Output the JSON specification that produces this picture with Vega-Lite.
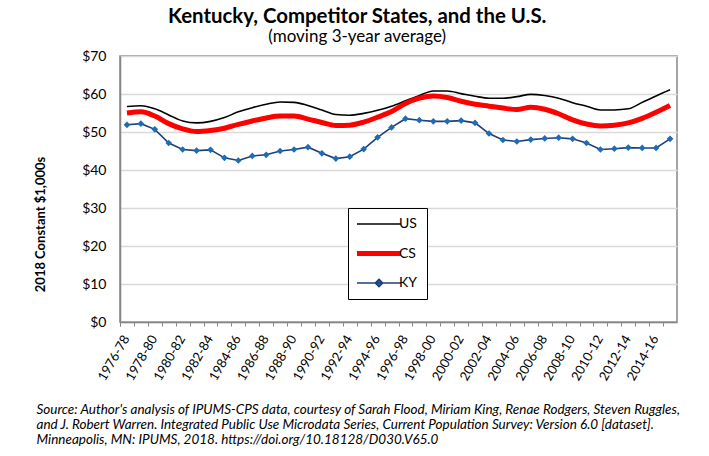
{
  "$schema": "https://vega.github.io/schema/vega-lite/v6.json",
  "width": 557,
  "height": 266,
  "padding": {"left": 34, "top": 6, "right": 5, "bottom": 5},
  "background": "white",
  "config": {"font": "Lato", "view": {"stroke": "#868686", "strokeWidth": 1.5}},
  "title": {
    "text": "Kentucky, Competitor States, and the U.S.",
    "subtitle": "(moving 3-year average)",
    "fontSize": 20.4,
    "fontWeight": "bold",
    "color": "black",
    "subtitleFontSize": 17,
    "subtitleColor": "black",
    "anchor": "middle",
    "frame": "bounds",
    "offset": 4,
    "subtitlePadding": 2
  },
  "data": {"values": [
    {"p": "1976-78", "US": 56.7, "CS": 55.0, "KY": 51.9},
    {"p": "1977-79", "US": 56.9, "CS": 55.3, "KY": 52.2},
    {"p": "1978-80", "US": 56.1, "CS": 54.2, "KY": 50.7},
    {"p": "1979-81", "US": 54.5, "CS": 52.2, "KY": 47.1},
    {"p": "1980-82", "US": 52.9, "CS": 50.8, "KY": 45.4},
    {"p": "1981-83", "US": 52.4, "CS": 50.1, "KY": 45.1},
    {"p": "1982-84", "US": 52.8, "CS": 50.4, "KY": 45.3},
    {"p": "1983-85", "US": 53.8, "CS": 51.0, "KY": 43.2},
    {"p": "1984-86", "US": 55.3, "CS": 52.0, "KY": 42.5},
    {"p": "1985-87", "US": 56.4, "CS": 52.9, "KY": 43.7},
    {"p": "1986-88", "US": 57.3, "CS": 53.7, "KY": 44.0},
    {"p": "1987-89", "US": 57.9, "CS": 54.2, "KY": 45.0},
    {"p": "1988-90", "US": 57.8, "CS": 54.2, "KY": 45.4},
    {"p": "1989-91", "US": 57.0, "CS": 53.4, "KY": 46.0},
    {"p": "1990-92", "US": 55.8, "CS": 52.5, "KY": 44.4},
    {"p": "1991-93", "US": 54.6, "CS": 51.7, "KY": 43.0},
    {"p": "1992-94", "US": 54.4, "CS": 51.8, "KY": 43.5},
    {"p": "1993-95", "US": 54.9, "CS": 52.6, "KY": 45.5},
    {"p": "1994-96", "US": 55.7, "CS": 53.9, "KY": 48.6},
    {"p": "1995-97", "US": 56.8, "CS": 55.4, "KY": 51.2},
    {"p": "1996-98", "US": 58.2, "CS": 57.5, "KY": 53.5},
    {"p": "1997-99", "US": 59.6, "CS": 58.9, "KY": 53.1},
    {"p": "1998-00", "US": 60.8, "CS": 59.5, "KY": 52.8},
    {"p": "1999-01", "US": 60.8, "CS": 59.1, "KY": 52.8},
    {"p": "2000-02", "US": 60.1, "CS": 58.1, "KY": 53.0},
    {"p": "2001-03", "US": 59.4, "CS": 57.3, "KY": 52.4},
    {"p": "2002-04", "US": 58.9, "CS": 56.8, "KY": 49.6},
    {"p": "2003-05", "US": 58.9, "CS": 56.3, "KY": 47.9},
    {"p": "2004-06", "US": 59.3, "CS": 55.9, "KY": 47.5},
    {"p": "2005-07", "US": 59.9, "CS": 56.5, "KY": 48.0},
    {"p": "2006-08", "US": 59.6, "CS": 56.0, "KY": 48.3},
    {"p": "2007-09", "US": 58.9, "CS": 54.8, "KY": 48.5},
    {"p": "2008-10", "US": 57.7, "CS": 53.2, "KY": 48.2},
    {"p": "2009-11", "US": 56.8, "CS": 52.1, "KY": 47.1},
    {"p": "2010-12", "US": 55.8, "CS": 51.6, "KY": 45.4},
    {"p": "2011-13", "US": 55.8, "CS": 51.8, "KY": 45.6},
    {"p": "2012-14", "US": 56.1, "CS": 52.4, "KY": 45.9},
    {"p": "2013-15", "US": 57.8, "CS": 53.6, "KY": 45.8},
    {"p": "2014-16", "US": 59.5, "CS": 55.2, "KY": 45.8},
    {"p": "2015-17", "US": 61.1, "CS": 57.0, "KY": 48.2}
  ]},
  "transform": [{"fold": ["US", "CS", "KY"], "as": ["series", "value"]}],
  "encoding": {
    "x": {
      "field": "p",
      "type": "ordinal",
      "sort": null,
      "scale": {"type": "point", "padding": 0.5},
      "axis": {
        "title": [
          "Source: Author's analysis of IPUMS-CPS data, courtesy of Sarah Flood, Miriam King, Renae Rodgers, Steven Ruggles,",
          "and J. Robert Warren. Integrated Public Use Microdata Series, Current Population Survey: Version 6.0 [dataset].",
          "Minneapolis, MN: IPUMS, 2018. https://doi.org/10.18128/D030.V65.0"
        ],
        "titleFont": "Lato",
        "titleFontStyle": "italic",
        "titleFontWeight": "normal",
        "titleFontSize": 13.5,
        "titleColor": "black",
        "titleAnchor": "start",
        "titleAlign": "left",
        "titleX": -84,
        "titleY": 80,
        "titleBaseline": "top",
        "titleLineHeight": 15,
        "labelAngle": -60,
        "labelExpr": "indexof(['1976-78','1978-80','1980-82','1982-84','1984-86','1986-88','1988-90','1990-92','1992-94','1994-96','1996-98','1998-00','2000-02','2002-04','2004-06','2006-08','2008-10','2010-12','2012-14','2014-16'], datum.value) >= 0 ? datum.value : ''",
        "labelFontSize": 13,
        "labelColor": "black",
        "labelPadding": 10,
        "labelOffset": 6,
        "labelOverlap": false,
        "tickOffset": -6.96,
        "tickExtra": true,
        "tickSize": 4,
        "tickColor": "#868686",
        "domainColor": "#868686",
        "domainWidth": 1.5,
        "grid": false
      }
    },
    "y": {
      "field": "value",
      "type": "quantitative",
      "scale": {"domain": [0, 70]},
      "axis": {
        "title": "2018 Constant $1,000s",
        "titleFontSize": 13,
        "titleFontWeight": "bold",
        "titleColor": "black",
        "titleX": -80,
        "titleY": 168,
        "titleAlign": "center",
        "titleBaseline": "middle",
        "titleAngle": -90,
        "values": [0, 10, 20, 30, 40, 50, 60, 70],
        "labelExpr": "'$' + datum.value",
        "labelFontSize": 14,
        "labelColor": "black",
        "labelPadding": 14,
        "tickSize": 0,
        "domainColor": "#868686",
        "domainWidth": 1.5,
        "gridColor": "#d9d9d9",
        "gridWidth": 1.3
      }
    }
  },
  "layer": [
    {
      "transform": [{"filter": "datum.series === 'US'"}],
      "mark": {"type": "line", "interpolate": "monotone", "strokeWidth": 1.6},
      "encoding": {
        "color": {
          "field": "series",
          "type": "nominal",
          "scale": {"domain": ["US", "CS", "KY"], "range": ["black", "#ff0000", "#1f3f7a"]},
          "legend": {
            "title": null,
            "orient": "none",
            "legendX": 228,
            "legendY": 152,
            "direction": "vertical",
            "strokeColor": "black",
            "fillColor": "white",
            "padding": 9,
            "rowPadding": 12.5,
            "symbolType": "M-0.67,0H3.53",
            "symbolSize": 441,
            "symbolStrokeWidth": 1.6,
            "labelFontSize": 14,
            "labelColor": "black",
            "labelOffset": 28,
            "encode": {
              "symbols": {
                "update": {
                  "strokeWidth": {"signal": "datum.value === 'CS' ? 5 : 1.6"},
                  "shape": {"signal": "datum.value === 'KY' ? 'M-0.67,0H3.53M1.43,-0.35L1.78,0L1.43,0.35L1.08,0Z' : 'M-0.67,0H3.53'"},
                  "fill": {"signal": "datum.value === 'KY' ? '#1f6cb5' : 'transparent'"}
                }
              }
            }
          }
        }
      }
    },
    {
      "transform": [{"filter": "datum.series === 'CS'"}],
      "mark": {"type": "line", "interpolate": "monotone", "strokeWidth": 5},
      "encoding": {"color": {"field": "series", "type": "nominal"}}
    },
    {
      "transform": [{"filter": "datum.series === 'KY'"}],
      "mark": {"type": "line", "strokeWidth": 1.6},
      "encoding": {"color": {"field": "series", "type": "nominal"}}
    },
    {
      "transform": [{"filter": "datum.series === 'KY'"}],
      "mark": {"type": "point", "shape": "diamond", "filled": true, "size": 45, "color": "#1f6cb5", "opacity": 1}
    }
  ]
}
